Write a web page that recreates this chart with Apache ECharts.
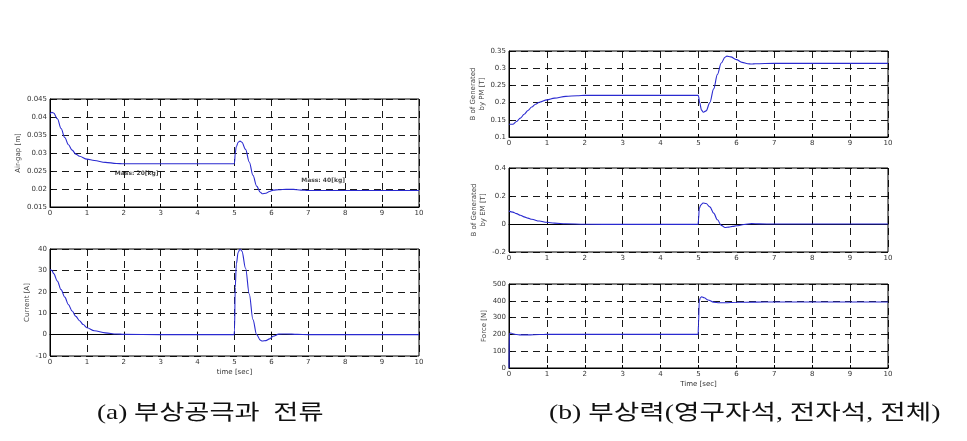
<!DOCTYPE html>
<html><head><meta charset="utf-8">
<script src="https://cdn.jsdelivr.net/npm/echarts@6/dist/echarts.min.js"></script>
<style>html,body{margin:0;padding:0;background:#fff}#c{width:967px;height:441px}</style>
</head><body><div id="c"></div>
<script>
// ---- data ----
const gapT = [0,0.05,0.1,0.2,0.3,0.4,0.5,0.6,0.7,0.8,1.0,1.2,1.5,1.8,2,3,4,4.99,5.0,5.02,5.05,5.1,5.15,5.2,5.3,5.4,5.5,5.6,5.7,5.75,5.85,5.95,6.05,6.2,6.4,6.6,6.8,7,8,9,10];
const gapV = [0.0408,0.0413,0.0411,0.0395,0.0368,0.0343,0.0323,0.0308,0.0297,0.0291,0.0283,0.0279,0.0274,0.0271,0.0270,0.0270,0.0270,0.0270,0.0272,0.0300,0.0318,0.0330,0.0333,0.0330,0.0310,0.0275,0.0238,0.0208,0.0191,0.0187,0.0188,0.0193,0.0197,0.0198,0.0199,0.0199,0.0197,0.0196,0.0196,0.0196,0.0196];
const curT = [0,0.05,0.1,0.2,0.3,0.4,0.5,0.6,0.7,0.8,0.9,1.0,1.2,1.5,1.8,2,3,4,4.99,5.0,5.02,5.05,5.1,5.15,5.2,5.3,5.4,5.5,5.6,5.7,5.75,5.85,5.95,6.05,6.2,6.4,6.7,7,8,9,10];
const curV = [30.5,30,28.5,25,21,17.5,14,11,8.5,6.5,4.7,3.2,1.8,0.8,0.3,0.1,0,0,0,2,22,33,38.5,40,39,31,19,7,0,-2.6,-3,-2.8,-2,-0.8,0.2,0.3,0.1,0,0,0,0];
const bpmT = [0,0.1,0.2,0.3,0.4,0.5,0.6,0.7,0.8,1.0,1.2,1.5,1.8,2,3,4,4.99,5.0,5.03,5.08,5.13,5.2,5.3,5.4,5.5,5.6,5.7,5.75,5.85,6.0,6.15,6.3,6.4,6.5,7,8,9,10];
const bpmV = [0.137,0.137,0.145,0.155,0.166,0.177,0.187,0.195,0.201,0.208,0.213,0.218,0.220,0.221,0.221,0.221,0.221,0.219,0.200,0.178,0.172,0.176,0.200,0.240,0.282,0.315,0.332,0.335,0.333,0.325,0.317,0.313,0.312,0.313,0.314,0.314,0.314,0.314];
const bemT = [0,0.1,0.2,0.3,0.4,0.5,0.6,0.8,1.0,1.2,1.5,2,3,4,4.99,5.0,5.02,5.06,5.12,5.2,5.3,5.4,5.5,5.6,5.7,5.8,5.9,6.0,6.2,6.4,6.6,7,8,9,10];
const bemV = [0.092,0.085,0.074,0.062,0.051,0.042,0.034,0.021,0.012,0.006,0.002,-0.002,-0.003,-0.003,-0.003,0.03,0.11,0.135,0.150,0.146,0.122,0.078,0.030,-0.010,-0.025,-0.022,-0.017,-0.013,-0.004,0.003,0.001,0,0,0,0];
const frcT = [0,0.01,0.05,0.1,0.2,0.3,0.5,0.8,1.0,2,3,4,4.99,5.0,5.02,5.05,5.08,5.15,5.25,5.4,5.55,5.7,6.0,6.5,7,8,9,10];
const frcV = [0,205,208,204,199,197,197,199,200,200,200,200,200,260,400,418,424,418,405,392,388,388,391,392,393,393,393,393];

const xTicks = [0,1,2,3,4,5,6,7,8,9,10];
const gapTicks = [0.015,0.02,0.025,0.03,0.035,0.04,0.045];
const curTicks = [-10,0,10,20,30,40];
const bpmTicks = [0.1,0.15,0.2,0.25,0.3,0.35];
const bemTicks = [-0.2,0,0.2,0.4];
const frcTicks = [0,100,200,300,400,500];

const notes = [
  {name:'Mass: 20[kg]', t:2.35, v:0.0243},
  {name:'Mass: 40[kg]', t:7.4, v:0.0224}
];
const captions = ['(a) 부상공극과  전류', '(b) 부상력(영구자석, 전자석, 전체)'];

// ---- chart ----
const chart = echarts.init(document.getElementById('c'));
const grids = [
  {left:50, top:99, width:369, height:108},
  {left:50, top:249, width:369, height:107},
  {left:509, top:51, width:379, height:86},
  {left:509, top:168, width:379, height:84},
  {left:509, top:284, width:379, height:84}
];
const dash = {type:[7,5], color:'#000', width:0.9};
function xAx(i, name){
  return {type:'value', gridIndex:i, min:xTicks[0], max:xTicks[xTicks.length-1], interval:1,
    name:name||'', nameLocation:'middle', nameGap:13,
    nameTextStyle:{fontSize:7, color:'#333', fontFamily:'DejaVu Sans'},
    axisLine:{show:true, lineStyle:{color:'#000', width:1}},
    axisTick:{show:true, inside:true, length:3, lineStyle:{color:'#000'}},
    axisLabel:{fontSize:7, color:'#333', margin:3, fontFamily:'DejaVu Sans'},
    splitLine:{show:true, lineStyle:dash}};
}
function yAx(i, ticks, name, gap){
  return {type:'value', gridIndex:i, min:ticks[0], max:ticks[ticks.length-1],
    interval:+(ticks[1]-ticks[0]).toFixed(6),
    name:name, nameLocation:'middle', nameRotate:90, nameGap:gap,
    nameTextStyle:{fontSize:7, color:'#444', fontFamily:'DejaVu Sans', lineHeight:9},
    axisLine:{show:true, lineStyle:{color:'#000', width:1}},
    axisTick:{show:true, inside:true, length:3, lineStyle:{color:'#000'}},
    axisLabel:{fontSize:7, color:'#333', margin:3, fontFamily:'DejaVu Sans',
      formatter: v => String(+v.toFixed(4))},
    splitLine:{show:true, lineStyle:dash}};
}
function pairs(t, v){ return t.map((x,k)=>[x, v[k]]); }
function line(i, t, v){
  return {type:'line', xAxisIndex:i, yAxisIndex:i, data:pairs(t,v), showSymbol:false,
    smooth:0.35, smoothMonotone:'x',
    lineStyle:{color:'#2a2ad0', width:1.1}, animation:false, z:5};
}
chart.setOption({
  animation:false,
  grid: grids.map(g => Object.assign({show:true, borderColor:'#000', borderWidth:1, backgroundColor:'transparent'}, g)),
  xAxis: [xAx(0), xAx(1,'time [sec]'), xAx(2), xAx(3), xAx(4,'Time [sec]')],
  yAxis: [
    yAx(0, gapTicks, 'Air-gap [m]', 22),
    yAx(1, curTicks, 'Current [A]', 16),
    yAx(2, bpmTicks, 'B of Generated\nby PM [T]', 22),
    yAx(3, bemTicks, 'B of Generated\nby EM [T]', 21),
    yAx(4, frcTicks, 'Force [N]', 17)
  ],
  series: [
    line(0, gapT, gapV), line(1, curT, curV), line(2, bpmT, bpmV), line(3, bemT, bemV), line(4, frcT, frcV),
    {type:'scatter', xAxisIndex:0, yAxisIndex:0, symbolSize:0, z:6,
      data: notes.map(n => ({name:n.name, value:[n.t, n.v]})),
      label:{show:true, position:'inside', formatter:p=>p.name, fontSize:6, fontWeight:'bold', color:'#111', fontFamily:'DejaVu Sans'}}
  ],
  graphic: [
    {type:'text', x:97, y:403, scaleX:1.3, style:{text:captions[0], font:'21px "Liberation Serif", "Noto Sans CJK KR"', fill:'#111'}},
    {type:'text', x:549, y:403, scaleX:1.32, style:{text:captions[1], font:'21px "Liberation Serif", "Noto Sans CJK KR"', fill:'#111'}}
  ]
});
</script></body></html>
